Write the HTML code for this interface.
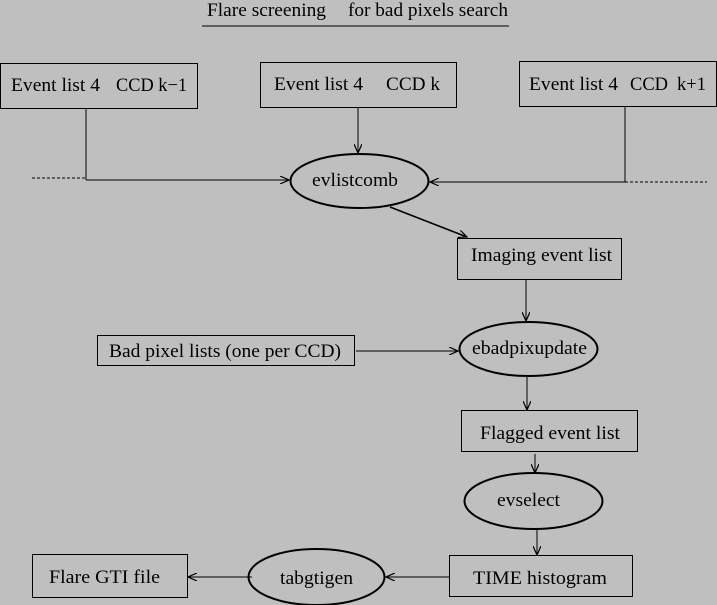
<!DOCTYPE html>
<html><head><style>
html,body{margin:0;padding:0;background:#bfbfbf;}
svg{display:block;}
text{font-family:"Liberation Serif",serif;font-size:19px;fill:#000;}
</style></head><body>
<svg width="717" height="605" viewBox="0 0 717 605" xmlns="http://www.w3.org/2000/svg">
<defs>
<marker id="a" markerWidth="10" markerHeight="8" refX="9" refY="4" orient="auto" markerUnits="userSpaceOnUse">
<path d="M0,0 L9,4 L0,8" fill="none" stroke="#000" stroke-width="1.2"/>
</marker>
</defs>
<rect width="717" height="605" fill="#bfbfbf"/>
<text x="207" y="16" textLength="119" lengthAdjust="spacingAndGlyphs">Flare screening</text>
<text x="348" y="16" textLength="160" lengthAdjust="spacingAndGlyphs">for bad pixels search</text>
<line x1="202" y1="26" x2="509" y2="26" stroke="#000"/>
<g fill="none" stroke="#000" stroke-width="1">
<rect x="0.5" y="63.5" width="197" height="45"/>
<rect x="260.5" y="62.5" width="196" height="45"/>
<rect x="519.5" y="61.5" width="197" height="45"/>
<rect x="457.5" y="238.5" width="164" height="41"/>
<rect x="97.5" y="335.5" width="257" height="30"/>
<rect x="461.5" y="410.5" width="176" height="41"/>
<rect x="449.5" y="555.5" width="183" height="41"/>
<rect x="32.5" y="554.5" width="155" height="43"/>
</g>
<g fill="none" stroke="#000" stroke-width="2">
<ellipse cx="359.5" cy="181" rx="69" ry="27"/>
<ellipse cx="528.5" cy="349" rx="69" ry="27"/>
<ellipse cx="533.5" cy="501" rx="69" ry="28"/>
<ellipse cx="316.5" cy="577" rx="68" ry="28"/>
</g>
<g stroke="#000" stroke-width="1" fill="none">
<line x1="86" y1="108" x2="86" y2="180"/>
<line x1="86" y1="180" x2="289" y2="180" marker-end="url(#a)"/>
<line x1="32" y1="178" x2="86" y2="178" stroke-dasharray="3,2"/>
<line x1="625" y1="107" x2="625" y2="182"/>
<line x1="625" y1="182" x2="430" y2="182" marker-end="url(#a)"/>
<line x1="625" y1="182" x2="707" y2="182" stroke-dasharray="3,2"/>
<line x1="358" y1="107" x2="358" y2="153" marker-end="url(#a)"/>
<line x1="390" y1="207" x2="467" y2="237" stroke-width="1.6" marker-end="url(#a)"/>
<line x1="526" y1="280" x2="526" y2="321" marker-end="url(#a)"/>
<line x1="356" y1="351" x2="458" y2="351" marker-end="url(#a)"/>
<line x1="527" y1="377" x2="527" y2="410" marker-end="url(#a)"/>
<line x1="535" y1="454" x2="535" y2="473" marker-end="url(#a)"/>
<line x1="537" y1="530" x2="537" y2="555" marker-end="url(#a)"/>
<line x1="449" y1="577" x2="386" y2="577" marker-end="url(#a)"/>
<line x1="252" y1="577" x2="188" y2="577" marker-end="url(#a)"/>
</g>
<text x="11" y="91" textLength="89" lengthAdjust="spacingAndGlyphs">Event list 4</text>
<text x="116" y="91" textLength="71" lengthAdjust="spacingAndGlyphs">CCD k−1</text>
<text x="274" y="90" textLength="89" lengthAdjust="spacingAndGlyphs">Event list 4</text>
<text x="386" y="90" textLength="54" lengthAdjust="spacingAndGlyphs">CCD k</text>
<text x="529" y="90" textLength="89" lengthAdjust="spacingAndGlyphs">Event list 4</text>
<text x="630" y="90" textLength="38" lengthAdjust="spacingAndGlyphs">CCD</text>
<text x="677" y="90" textLength="29" lengthAdjust="spacingAndGlyphs">k+1</text>
<text x="312" y="186" textLength="86" lengthAdjust="spacingAndGlyphs">evlistcomb</text>
<text x="471" y="261" textLength="141" lengthAdjust="spacingAndGlyphs">Imaging event list</text>
<text x="109" y="357" textLength="232" lengthAdjust="spacingAndGlyphs">Bad pixel lists (one per CCD)</text>
<text x="472" y="354" textLength="115" lengthAdjust="spacingAndGlyphs">ebadpixupdate</text>
<text x="480" y="439" textLength="140" lengthAdjust="spacingAndGlyphs">Flagged event list</text>
<text x="497" y="506" textLength="63" lengthAdjust="spacingAndGlyphs">evselect</text>
<text x="473" y="584" textLength="134" lengthAdjust="spacingAndGlyphs">TIME histogram</text>
<text x="280" y="584" textLength="73" lengthAdjust="spacingAndGlyphs">tabgtigen</text>
<text x="49" y="583" textLength="111" lengthAdjust="spacingAndGlyphs">Flare GTI file</text>
</svg>
</body></html>
